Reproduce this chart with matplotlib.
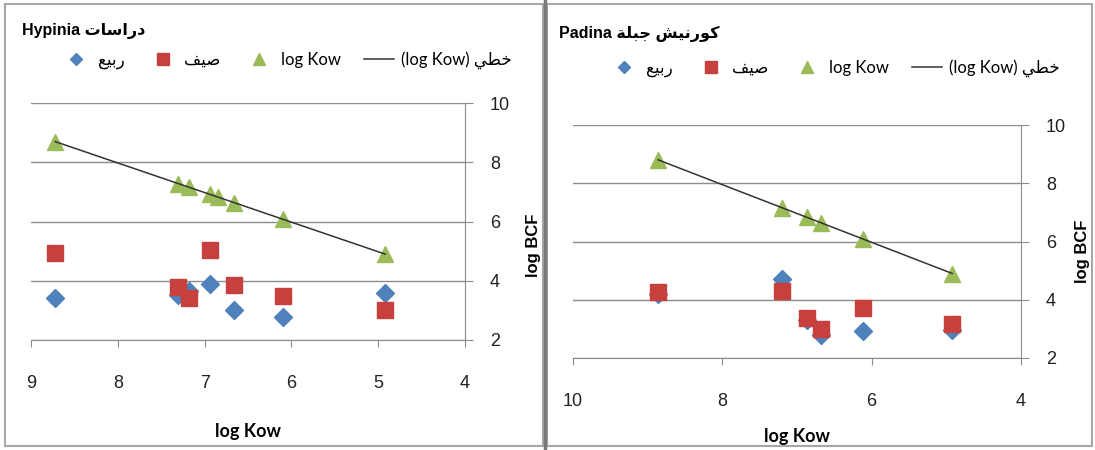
import numpy as np
import matplotlib

matplotlib.use("Agg")

from matplotlib import pyplot as plt  # noqa: E402
from matplotlib.lines import Line2D  # noqa: E402
from matplotlib.patches import Rectangle  # noqa: E402

# Arabic words written in presentation forms, visual (left-to-right) order
SPRING = "\uFECA\uFEF4\uFE91\uFEAD"            # ربيع
SUMMER = "\uFED2\uFEF4\uFEBB"                  # صيف
LINEAR = "\uFEF2\uFEC4\uFEA7"                  # خطي
STUDIES = "\uFE95\uFE8E\uFEB3\uFE8D\uFEAD\uFEA9"  # دراسات
CORNICHE = "\uFEB6\uFEF4\uFEE7\uFEAD\uFEEE\uFEDB"  # كورنيش
JABLEH = "\uFE94\uFEE0\uFE92\uFE9F"            # جبلة

# Hypinia panel
hyp_kow_x = [8.72, 7.31, 7.18, 6.94, 6.85, 6.66, 6.10, 4.92]
hyp_kow_y = [8.70, 7.28, 7.15, 6.92, 6.83, 6.64, 6.08, 4.90]
hyp_x = [8.72, 7.31, 7.18, 6.94, 6.66, 6.10, 4.92]
hyp_spring = [3.42, 3.53, 3.65, 3.89, 3.02, 2.77, 3.58]
hyp_summer = [4.94, 3.79, 3.41, 5.05, 3.86, 3.49, 3.00]

# Padina panel
pad_kow_x = [8.86, 7.20, 6.86, 6.68, 6.12, 4.92]
pad_kow_y = [8.80, 7.15, 6.84, 6.65, 6.08, 4.90]
pad_x = [8.86, 7.20, 6.86, 6.68, 6.12, 4.92]
pad_spring = [4.20, 4.70, 3.30, 2.80, 2.94, 2.95]
pad_summer = [4.26, 4.31, 3.37, 2.98, 3.70, 3.17]

BLUE = "#4F81BD"
RED = "#C8403D"
GREEN = "#9BBB59"
GRID = "#8c8c8c"
W, H = 1095, 450

fig = plt.figure(figsize=(W / 100, H / 100), dpi=100)


def px(x0, y0, x1, y1):
    return [x0 / W, 1 - y1 / H, (x1 - x0) / W, (y1 - y0) / H]


# panel frames
fig.patches.append(Rectangle((5 / W, 4 / H), 538 / W, 442 / H, transform=fig.transFigure,
                             fill=False, edgecolor="#a8a8a8", linewidth=1.5))
fig.patches.append(Rectangle((547 / W, 4 / H), 545 / W, 442 / H, transform=fig.transFigure,
                             fill=False, edgecolor="#a8a8a8", linewidth=1.5))
fig.add_artist(Line2D([545 / W, 545 / W], [0, 1], transform=fig.transFigure,
                      color="#7a7a7a", linewidth=2.5))


def draw_panel(ax, kx, ky, x, spring, summer, xlim, xticks, xlab_y, ylab_xy):
    ax.set_xlim(*xlim)
    ax.set_ylim(2, 10)
    ax.set_yticks([2, 4, 6, 8, 10])
    ax.set_xticks(xticks)
    ax.yaxis.tick_right()
    for side in ("top", "left"):
        ax.spines[side].set_visible(False)
    for side in ("right", "bottom"):
        ax.spines[side].set_color(GRID)
    ax.grid(axis="y", color=GRID, linewidth=1)
    ax.set_axisbelow(True)
    ax.tick_params(axis="y", length=6, color=GRID, pad=12, labelsize=13,
                   labelcolor="#222222")
    ax.tick_params(axis="x", length=5, color=GRID, pad=20, labelsize=13,
                   labelcolor="#222222")
    for t in ax.get_xticklabels() + ax.get_yticklabels():
        t.set_fontfamily("Liberation Sans")

    ax.plot(x, spring, linestyle="none", marker="D", markersize=9, color=BLUE, zorder=3)
    ax.plot(x, summer, linestyle="none", marker="s", markersize=11, color=RED, zorder=4)
    ax.plot(kx, ky, linestyle="none", marker="^", markersize=11, color=GREEN, zorder=3)
    slope, icpt = np.polyfit(kx, ky, 1)
    xs = np.array([max(kx), min(kx)])
    ax.plot(xs, slope * xs + icpt, color="#333333", linewidth=1.1, zorder=5)

    ax.set_xlabel("log Kow", fontsize=13, fontweight="bold", family="Lato")
    ax.xaxis.set_label_coords(0.5, xlab_y)
    ax.yaxis.set_label_position("right")
    ax.set_ylabel("log BCF", fontsize=12, fontweight="bold", family="Liberation Sans")
    ax.yaxis.set_label_coords(*ylab_xy)


ax_l = fig.add_axes(px(31, 103, 465, 340))
draw_panel(ax_l, hyp_kow_x, hyp_kow_y, hyp_x, hyp_spring, hyp_summer,
           (9, 4), [9, 8, 7, 6, 5, 4], -0.35, (1.14, 0.40))

ax_r = fig.add_axes(px(573, 125, 1021, 358))
draw_panel(ax_r, pad_kow_x, pad_kow_y, pad_x, pad_spring, pad_summer,
           (10, 4), [10, 8, 6, 4], -0.30, (1.12, 0.46))

fig.text(22 / W, 1 - 31 / H, "Hypinia " + STUDIES, fontsize=11.5, fontweight="bold",
         family=["Liberation Sans", "DejaVu Sans"], va="center", ha="left")
fig.text(559 / W, 1 - 34 / H, "Padina " + JABLEH + " " + CORNICHE, fontsize=11.5,
         fontweight="bold", family=["Liberation Sans", "DejaVu Sans"],
         va="center", ha="left")

handles = [
    Line2D([], [], linestyle="none", marker="D", markersize=6, color=BLUE),
    Line2D([], [], linestyle="none", marker="s", markersize=8, color=RED),
    Line2D([], [], linestyle="none", marker="^", markersize=8, color=GREEN),
    Line2D([], [], color="#333333", linewidth=1.1),
]
labels = [SPRING, SUMMER, "log Kow", "(log Kow) " + LINEAR]
for cx, cy in ((286, 60), (834, 68)):
    fig.legend(handles, labels, loc="center", bbox_to_anchor=(cx / W, 1 - cy / H),
               ncol=4, frameon=False, handlelength=1.8, handletextpad=0.4,
               columnspacing=1.4, borderpad=0,
               prop={"family": ["Lato", "DejaVu Sans"], "size": 12})

fig.savefig("out.png", dpi=100)
